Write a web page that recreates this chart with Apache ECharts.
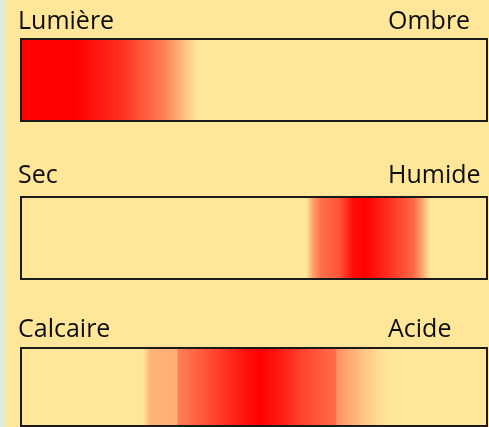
<!DOCTYPE html>
<html>
<head>
<meta charset="utf-8">
<script src="https://cdn.jsdelivr.net/npm/echarts@6/dist/echarts.min.js"></script>
<style>
    html, body {margin: 0; padding: 0; background: #FFE699;}
    #chart {width: 489px; height: 427px;}
</style>
</head>
<body>
<div id="chart"></div>
<script>
// libellés des trois échelles
var leftLabels = ['Lumière', 'Sec', 'Calcaire'];
var rightLabels = ['Ombre', 'Humide', 'Acide'];

// position le long de l'échelle (0-100) et intensité (0 = absent, 1 = optimum)
var lumierePos = [0, 11.8, 21.4, 30.6, 36.3, 37.8, 100];
var lumiereLevel = [1, 1, 0.8, 0.45, 0.1, 0, 0];

var humiditePos = [0, 61.2, 62.6, 64.1, 68.4, 71.2, 73.7, 76.3, 84.0, 85.5, 87.6, 100];
var humiditeLevel = [0, 0, 0.3, 0.5, 0.65, 0.95, 1, 0.9, 0.55, 0.35, 0, 0];

var phPos = [0, 26.3, 27.8, 33.5, 33.8, 38.5, 49.1, 51.3, 55.6, 59.8, 67.5, 67.7, 72.6, 76.9, 79.1, 100];
var phLevel = [0, 0, 0.22, 0.24, 0.44, 0.6, 0.95, 1, 0.88, 0.72, 0.52, 0.36, 0.18, 0.03, 0, 0];

var lowColor = [255, 230, 153];
var highColor = [255, 0, 0];

function levelColor(v) {
    var c = [];
    for (var i = 0; i < 3; i++) {
        c.push(Math.round(lowColor[i] + (highColor[i] - lowColor[i]) * v));
    }
    return 'rgb(' + c.join(',') + ')';
}

function buildGradient(pos, level) {
    var stops = [];
    for (var i = 0; i < pos.length; i++) {
        stops.push({offset: pos[i] / 100, color: levelColor(level[i])});
    }
    return new echarts.graphic.LinearGradient(0, 0, 1, 0, stops);
}

var scales = [
    {pos: lumierePos, level: lumiereLevel},
    {pos: humiditePos, level: humiditeLevel},
    {pos: phPos, level: phLevel}
];
var gridTops = [38, 196, 347];
var labelTops = [9, 163, 317];

var grids = [], xAxes = [], yAxes = [], series = [], titles = [];
for (var i = 0; i < scales.length; i++) {
    grids.push({left: 20, right: 1, top: gridTops[i], height: 84});
    xAxes.push({type: 'value', gridIndex: i, min: 0, max: 100, show: false});
    yAxes.push({type: 'category', gridIndex: i, data: [''], show: false});
    series.push({
        type: 'bar',
        xAxisIndex: i,
        yAxisIndex: i,
        barWidth: '100%',
        silent: true,
        data: [100],
        itemStyle: {
            color: buildGradient(scales[i].pos, scales[i].level),
            borderColor: '#1a1a1a',
            borderWidth: 2
        }
    });
    titles.push({text: leftLabels[i], left: 18, top: labelTops[i], padding: 0,
        textStyle: {fontFamily: 'Open Sans', fontSize: 25, fontWeight: 'normal', color: '#0d0d0d'}});
    titles.push({text: rightLabels[i], left: 388, top: labelTops[i], padding: 0,
        textStyle: {fontFamily: 'Open Sans', fontSize: 25, fontWeight: 'normal', color: '#0d0d0d'}});
}

var chart = echarts.init(document.getElementById('chart'));
chart.setOption({
    backgroundColor: '#FFE699',
    animation: false,
    title: titles,
    grid: grids,
    xAxis: xAxes,
    yAxis: yAxes,
    series: series,
    graphic: [{
        type: 'rect',
        left: 0, top: 0,
        shape: {width: 5, height: 427},
        style: {fill: '#DEEBD9'}
    }]
});
</script>
</body>
</html>
